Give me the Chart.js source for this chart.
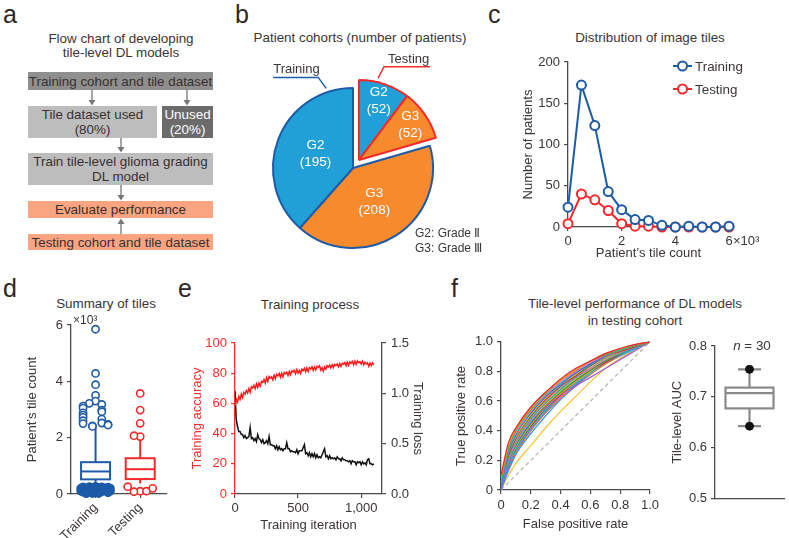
<!DOCTYPE html>
<html>
<head>
<meta charset="utf-8">
<title>Tile-level DL models</title>
<script src="https://cdn.jsdelivr.net/npm/chart.js@4.4.1/dist/chart.umd.min.js"></script>
<style>
  body { margin: 0; }
  #page { position: relative; width: 789px; height: 538px; background: #fff; overflow: hidden;
          font-family: "Liberation Sans", Arial, sans-serif; color: #3b3535; }
  #page canvas { position: absolute; }
  .tx { position: absolute; white-space: nowrap; font-size: 13.4px; line-height: 1; }
  .mid { transform: translateX(-50%); }
  .tag { position: absolute; font-size: 25px; line-height: 1; color: #2e2626; }
  .fbox { position: absolute; display: flex; align-items: center; justify-content: center;
          text-align: center; font-size: 13.4px; line-height: 15px; color: #3a2f2f; }
</style>
</head>
<body>
<div id="page">
  <!-- panel letters -->
  <div class="tag" style="left:3px;top:2px">a</div>
  <div class="tag" style="left:235px;top:2px">b</div>
  <div class="tag" style="left:488px;top:2px">c</div>
  <div class="tag" style="left:3px;top:276px">d</div>
  <div class="tag" style="left:178px;top:276px">e</div>
  <div class="tag" style="left:451px;top:276px">f</div>

  <!-- panel titles -->
  <div class="tx mid" style="left:121px;top:31.7px">Flow chart of developing</div>
  <div class="tx mid" style="left:121px;top:45.7px">tile-level DL models</div>
  <div class="tx mid" style="left:360px;top:30.7px">Patient cohorts (number of patients)</div>
  <div class="tx mid" style="left:650px;top:30.7px">Distribution of image tiles</div>
  <div class="tx mid" style="left:106px;top:296.7px">Summary of tiles</div>
  <div class="tx mid" style="left:310px;top:297.7px">Training process</div>
  <div class="tx mid" style="left:635px;top:296.7px">Tile-level performance of DL models</div>
  <div class="tx mid" style="left:635px;top:313.7px">in testing cohort</div>

  <!-- a: flow chart -->
  <div class="fbox" style="left:28px;top:72px;width:185px;height:18px;background:#8f8f8f">Training cohort and tile dataset</div>
  <div class="fbox" style="left:28px;top:106px;width:129px;height:32px;background:#bdbdbd">Tile dataset used<br>(80%)</div>
  <div class="fbox" style="left:162px;top:106px;width:51px;height:32px;background:#6b6b6b;color:#fff">Unused<br>(20%)</div>
  <div class="fbox" style="left:28px;top:153px;width:185px;height:32px;background:#bdbdbd">Train tile-level glioma grading<br>DL model</div>
  <div class="fbox" style="left:28px;top:201px;width:185px;height:17px;background:#f9a582">Evaluate performance</div>
  <div class="fbox" style="left:28px;top:234px;width:185px;height:16px;background:#f9a582">Testing cohort and tile dataset</div>
  <svg style="position:absolute;left:0;top:0" width="240" height="260">
    <g stroke="#767676" stroke-width="1.3">
      <line x1="92" y1="90" x2="92" y2="101"/>
      <line x1="187" y1="90" x2="187" y2="101"/>
      <line x1="121" y1="138" x2="121" y2="148"/>
      <line x1="121" y1="185" x2="121" y2="196"/>
      <line x1="121" y1="234" x2="121" y2="223"/>
    </g>
    <g fill="#767676">
      <polygon points="88.5,100 95.5,100 92,105.5"/>
      <polygon points="183.5,100 190.5,100 187,105.5"/>
      <polygon points="117.5,147 124.5,147 121,152.5"/>
      <polygon points="117.5,195 124.5,195 121,200.5"/>
      <polygon points="117.5,224 124.5,224 121,218.5"/>
    </g>
  </svg>

  <canvas id="cvB"></canvas>
  <div class="tx" style="left:415px;top:227px;font-size:12px">G2: Grade Ⅱ</div>
  <div class="tx" style="left:415px;top:241.5px;font-size:12px">G3: Grade Ⅲ</div>

  <canvas id="cvC"></canvas>
  <canvas id="cvD"></canvas>
  <canvas id="cvE"></canvas>
  <canvas id="cvF"></canvas>
  <canvas id="cvG"></canvas>
  <div class="tx mid" style="left:752px;top:339px"><i>n</i> = 30</div>
</div>

<script>
// === data ===
// b: patient cohorts (clockwise from 12 o'clock)
const cohortGrades = ["G2", "G3", "G3", "G2"];
const cohortGroups = ["Testing", "Testing", "Training", "Training"];
const cohortCounts = [52, 52, 208, 195];

// c: distribution of image tiles, x in 10^3 tiles
const tileBins = [0, 0.5, 1, 1.5, 2, 2.5, 3, 3.5, 4, 4.5, 5, 5.5, 6];
const trainPatients = [24, 172, 123, 43, 21, 9, 8, 2, 0, 1, 0, 0, 1];
const testPatients = [4, 40, 33, 20, 4, 1, 1, 0, 0, 0, 0, 0, 0];
const tileTicks = [0, 2, 4, 6];

// d: summary of tiles (10^3), stats = [low whisker, q1, median, q3, high whisker]
const summaryGroups = ["Training", "Testing"];
const trainTileStats = [0.3, 0.52, 0.8, 1.13, 2.35];
const testTileStats = [0.37, 0.53, 0.88, 1.27, 2.0];
const trainHighOutliers = [4.28, 5.85, 3.88, 3.5, 3.3, 3.22, 3.18, 3.12, 3.05, 2.98, 2.92, 2.88,
                           2.8, 2.72, 2.66, 2.6, 2.52, 2.5, 2.47, 2.45, 2.42, 2.4];
const trainLowOutliers = [0.27, 0.26, 0.25, 0.25, 0.24, 0.23, 0.23, 0.22, 0.22, 0.21, 0.21, 0.2,
                          0.2, 0.19, 0.19, 0.18, 0.18, 0.17, 0.17, 0.16, 0.16, 0.15, 0.15, 0.14,
                          0.14, 0.13, 0.13, 0.12, 0.12, 0.11, 0.11, 0.1, 0.1, 0.09, 0.09, 0.08,
                          0.08, 0.07, 0.07, 0.06, 0.06, 0.05, 0.05, 0.04, 0.04, 0.03, 0.03, 0.02,
                          0.02, 0.01];
const testHighOutliers = [3.57, 2.98, 2.51, 2.04, 2.07];
const testLowOutliers = [0.1, 0.08, 0.1, 0.26, 0.2];
const summaryTicks = [0, 2, 4, 6];

// e: training process
const iterations = [0, 10, 20, 30, 40, 50, 60, 70, 80, 90, 100, 110, 120, 130, 140, 150, 160, 170,
  180, 190, 200, 210, 220, 230, 240, 250, 260, 270, 280, 290, 300, 310, 320, 330, 340, 350, 360,
  370, 380, 390, 400, 410, 420, 430, 440, 450, 460, 470, 480, 490, 500, 510, 520, 530, 540, 550,
  560, 570, 580, 590, 600, 610, 620, 630, 640, 650, 660, 670, 680, 690, 700, 710, 720, 730, 740,
  750, 760, 770, 780, 790, 800, 810, 820, 830, 840, 850, 860, 870, 880, 890, 900, 910, 920, 930,
  940, 950, 960, 970, 980, 990, 1000, 1010, 1020, 1030, 1040, 1050, 1060, 1070, 1080, 1090, 1100];
const trainAccuracy = [
  58.0, 62.8, 60.9, 64.6, 62.7, 66.3, 63.9, 67.2, 66.1, 68.5,
  66.9, 69.8, 67.4, 71.0, 70.2, 71.9, 69.8, 73.0, 70.6, 73.4,
  71.5, 74.6, 73.8, 75.8, 73.4, 77.0, 74.6, 77.9, 76.8, 77.6,
  75.6, 78.7, 76.4, 79.1, 78.2, 79.8, 77.3, 80.0, 77.6, 80.4,
  79.5, 80.6, 78.5, 81.1, 79.0, 81.5, 80.7, 82.0, 79.7, 82.3,
  80.1, 81.9, 79.8, 82.6, 81.7, 83.2, 81.0, 83.5, 81.2, 83.7,
  82.8, 84.2, 81.9, 84.0, 82.3, 84.6, 83.9, 84.9, 82.0, 83.6,
  81.4, 84.1, 82.6, 85.0, 84.2, 85.4, 83.4, 85.6, 83.7, 85.9,
  85.1, 86.1, 84.2, 86.3, 84.5, 86.6, 85.9, 86.9, 85.0, 87.3,
  85.2, 87.5, 86.6, 87.8, 85.6, 88.0, 85.9, 88.2, 87.0, 87.6,
  86.0, 87.9, 85.5, 87.2, 86.1, 86.9, 84.6, 86.7, 85.0, 86.8,
  85.6];
const trainLoss = [
  1.02, 0.74, 0.67, 0.62, 0.62, 0.59, 0.59, 0.56, 0.58, 0.55,
  0.56, 0.57, 0.66, 0.55, 0.56, 0.53, 0.55, 0.52, 0.59, 0.55,
  0.54, 0.51, 0.54, 0.50, 0.51, 0.53, 0.50, 0.57, 0.49, 0.49,
  0.48, 0.48, 0.45, 0.48, 0.44, 0.47, 0.44, 0.45, 0.43, 0.45,
  0.45, 0.51, 0.45, 0.45, 0.42, 0.43, 0.42, 0.42, 0.41, 0.44,
  0.40, 0.43, 0.43, 0.43, 0.46, 0.49, 0.40, 0.41, 0.38, 0.41,
  0.37, 0.40, 0.37, 0.40, 0.36, 0.39, 0.36, 0.37, 0.36, 0.39,
  0.42, 0.45, 0.37, 0.38, 0.35, 0.38, 0.35, 0.36, 0.35, 0.36,
  0.34, 0.37, 0.35, 0.35, 0.33, 0.36, 0.34, 0.34, 0.33, 0.33,
  0.32, 0.33, 0.30, 0.33, 0.32, 0.32, 0.29, 0.32, 0.31, 0.32,
  0.29, 0.32, 0.30, 0.31, 0.29, 0.34, 0.35, 0.30, 0.30, 0.29,
  0.30];
const iterTicks = [0, 500, 1000];

// f: ROC curves of 30 models, sampled at these false positive rates
const fprGrid = [0, 0.05, 0.1, 0.2, 0.3, 0.4, 0.5, 0.6, 0.7, 0.85, 1];
const rocTpr = [
  [0.10, 0.32, 0.42, 0.56, 0.66, 0.75, 0.82, 0.87, 0.92, 0.97, 1],
  [0.08, 0.30, 0.41, 0.55, 0.66, 0.74, 0.81, 0.87, 0.92, 0.97, 1],
  [0.06, 0.28, 0.40, 0.54, 0.65, 0.74, 0.81, 0.87, 0.91, 0.96, 1],
  [0.09, 0.29, 0.39, 0.53, 0.64, 0.73, 0.80, 0.86, 0.91, 0.96, 1],
  [0.05, 0.27, 0.38, 0.53, 0.64, 0.72, 0.80, 0.86, 0.91, 0.96, 1],
  [0.07, 0.26, 0.38, 0.52, 0.63, 0.72, 0.79, 0.85, 0.91, 0.96, 1],
  [0.04, 0.25, 0.37, 0.52, 0.63, 0.71, 0.79, 0.85, 0.90, 0.96, 1],
  [0.06, 0.25, 0.36, 0.51, 0.62, 0.71, 0.78, 0.85, 0.90, 0.96, 1],
  [0.03, 0.24, 0.36, 0.50, 0.62, 0.70, 0.78, 0.84, 0.90, 0.96, 1],
  [0.05, 0.23, 0.35, 0.50, 0.61, 0.70, 0.77, 0.84, 0.90, 0.95, 1],
  [0.04, 0.22, 0.34, 0.49, 0.61, 0.70, 0.77, 0.84, 0.89, 0.95, 1],
  [0.06, 0.23, 0.34, 0.49, 0.60, 0.69, 0.77, 0.83, 0.89, 0.95, 1],
  [0.02, 0.21, 0.33, 0.48, 0.60, 0.69, 0.76, 0.83, 0.89, 0.95, 1],
  [0.05, 0.22, 0.33, 0.48, 0.59, 0.68, 0.76, 0.83, 0.89, 0.95, 1],
  [0.03, 0.20, 0.32, 0.47, 0.59, 0.68, 0.76, 0.82, 0.88, 0.95, 1],
  [0.04, 0.21, 0.32, 0.47, 0.58, 0.67, 0.75, 0.82, 0.88, 0.95, 1],
  [0.02, 0.19, 0.31, 0.46, 0.58, 0.67, 0.75, 0.82, 0.88, 0.94, 1],
  [0.05, 0.20, 0.31, 0.46, 0.57, 0.67, 0.75, 0.82, 0.88, 0.94, 1],
  [0.03, 0.19, 0.30, 0.45, 0.57, 0.66, 0.74, 0.81, 0.87, 0.94, 1],
  [0.01, 0.18, 0.30, 0.45, 0.56, 0.66, 0.74, 0.81, 0.87, 0.94, 1],
  [0.04, 0.18, 0.29, 0.44, 0.56, 0.65, 0.73, 0.80, 0.87, 0.94, 1],
  [0.02, 0.17, 0.28, 0.44, 0.55, 0.65, 0.73, 0.80, 0.87, 0.94, 1],
  [0.03, 0.17, 0.28, 0.43, 0.55, 0.64, 0.73, 0.80, 0.86, 0.94, 1],
  [0.01, 0.16, 0.27, 0.42, 0.54, 0.64, 0.72, 0.79, 0.86, 0.93, 1],
  [0.02, 0.16, 0.27, 0.42, 0.54, 0.63, 0.72, 0.79, 0.86, 0.93, 1],
  [0.00, 0.15, 0.26, 0.41, 0.53, 0.63, 0.71, 0.79, 0.86, 0.93, 1],
  [0.02, 0.15, 0.25, 0.40, 0.52, 0.62, 0.71, 0.78, 0.85, 0.93, 1],
  [0.01, 0.14, 0.25, 0.40, 0.52, 0.62, 0.70, 0.76, 0.82, 0.91, 1],
  [0.00, 0.13, 0.24, 0.38, 0.50, 0.61, 0.70, 0.78, 0.85, 0.93, 1],
  [0.00, 0.10, 0.18, 0.30, 0.42, 0.53, 0.63, 0.73, 0.82, 0.92, 1]
];
const rocTicks = [0, 0.2, 0.4, 0.6, 0.8, 1];
// AUC box: [min, q1, median, q3, max]
const aucStats = [0.642, 0.677, 0.707, 0.718, 0.754];

// === colors ===
const TXT = "#3b3535";
const AXIS = "#4a4a4a";
const BLUE = "#1d5ba8";
const RED = "#f42a2a";
const PIE_BLUE = "#21a0d8";
const PIE_ORANGE = "#f88a2e";
const rocColors = ["#e8262b", "#ff8c1a", "#3cb44b", "#ff6fb5", "#18c3e6", "#2f6fd6", "#9b4fc9",
  "#f5b81c", "#1f9d8a", "#d62728", "#7ac142", "#ff9e7a", "#8e6cd8", "#00b3b3", "#e377c2",
  "#c7c91f", "#12a4f0", "#ff5a1f", "#2ca02c", "#b04fd0", "#ffa41c", "#20b2aa", "#dc143c",
  "#00cfe0", "#ff69b4", "#5a6fe0", "#ff7f0e", "#a25cd6", "#1e90ff", "#f6c335"];

Chart.defaults.font.family = '"Liberation Sans", Arial, sans-serif';
Chart.defaults.font.size = 13;
Chart.defaults.color = TXT;

// === helpers ===
// put a canvas at a page box and work out padding/axis sizes so the plot area lands at `area`
function frame(id, box, area, rightAxis) {
    const cv = document.getElementById(id);
    cv.width = box.w;
    cv.height = box.h;
    cv.style.left = box.x + "px";
    cv.style.top = box.y + "px";
    return {
        padding: { left: 0, top: area.t - box.y, right: rightAxis ? 0 : box.x + box.w - area.r, bottom: 0 },
        yLeft: area.l - box.x,
        yRight: box.x + box.w - area.r,
        xHeight: box.y + box.h - area.b,
    };
}

function axisStyle(color) {
    return {
        grid: { drawOnChartArea: false, drawTicks: true, tickLength: 4, color: color || AXIS, lineWidth: 1.2 },
        border: { display: true, color: color || AXIS, width: 1.3 },
    };
}

function fixedTicks(list) {
    return (scale) => { scale.ticks = list.map(v => ({ value: v })); };
}

const baseOpts = { responsive: false, animation: false, devicePixelRatio: 1, events: [] };

// small beeswarm so outliers with close values sit side by side
const swarmSteps = [0, -0.14, 0.14, -0.28, 0.28, -0.07, 0.07, -0.21, 0.21, -0.33, 0.33];
function swarm(values, center) {
    return values.map((v, i) => {
        let k = 0;
        for (let j = 0; j < i; j++) if (Math.abs(values[j] - v) < 0.2) k++;
        return { x: center + swarmSteps[k % swarmSteps.length], y: v };
    });
}

// boxes + whiskers drawn from stats through the chart scales
function boxPlugin(boxes, style) {
    return {
        id: "boxes",
        beforeDatasetsDraw(chart) {
            const { ctx, scales: { x, y } } = chart;
            ctx.save();
            ctx.lineWidth = style.lineWidth;
            boxes.forEach(b => {
                const cx = x.getPixelForValue(b.x);
                const [lo, q1, med, q3, hi] = b.stats.map(v => y.getPixelForValue(v));
                const hw = style.width / 2;
                ctx.strokeStyle = b.color;
                ctx.beginPath();
                ctx.moveTo(cx, q3); ctx.lineTo(cx, hi);
                ctx.moveTo(cx, q1); ctx.lineTo(cx, lo);
                if (style.cap) {
                    ctx.moveTo(cx - style.cap / 2, hi); ctx.lineTo(cx + style.cap / 2, hi);
                    ctx.moveTo(cx - style.cap / 2, lo); ctx.lineTo(cx + style.cap / 2, lo);
                }
                ctx.stroke();
                ctx.fillStyle = "#fff";
                ctx.fillRect(cx - hw, q3, hw * 2, q1 - q3);
                ctx.strokeRect(cx - hw, q3, hw * 2, q1 - q3);
                ctx.beginPath();
                ctx.moveTo(cx - hw, med); ctx.lineTo(cx + hw, med);
                ctx.stroke();
            });
            ctx.restore();
        }
    };
}

// === b: pie ===
const cohortPlugin = {
    id: "cohortPie",
    afterDatasetsUpdate(chart) {
        // pull the testing wedge out as one piece
        const arcs = chart.getDatasetMeta(0).data;
        const test = arcs.filter((a, i) => cohortGroups[i] === "Testing");
        const mid = (test[0].startAngle + test[test.length - 1].endAngle) / 2;
        test.forEach(a => { a.x += Math.cos(mid) * 10; a.y += Math.sin(mid) * 10; });
    },
    afterDatasetsDraw(chart) {
        const { ctx } = chart;
        const arcs = chart.getDatasetMeta(0).data;
        ctx.save();
        ctx.fillStyle = "#fff";
        ctx.font = '13.5px "Liberation Sans", Arial';
        ctx.textAlign = "center";
        ctx.textBaseline = "middle";
        arcs.forEach((a, i) => {
            const m = (a.startAngle + a.endAngle) / 2;
            const r = a.outerRadius * (cohortGroups[i] === "Testing" ? 0.78 : 0.5);
            const cx = a.x + Math.cos(m) * r;
            const cy = a.y + Math.sin(m) * r;
            ctx.fillText(cohortGrades[i], cx, cy - 8.5);
            ctx.fillText("(" + cohortCounts[i] + ")", cx, cy + 8.5);
        });

        // callouts
        ctx.lineWidth = 1.5;
        ctx.font = '13px "Liberation Sans", Arial';
        ctx.textBaseline = "alphabetic";
        const tr = arcs[3];
        let ang = -Math.PI / 2 - 18.6 * Math.PI / 180;
        let px = tr.x + Math.cos(ang) * 84, py = tr.y + Math.sin(ang) * 84;
        ctx.strokeStyle = BLUE;
        ctx.beginPath();
        ctx.moveTo(px, py); ctx.lineTo(px - 8, py - 11); ctx.lineTo(px - 53, py - 11);
        ctx.stroke();
        ctx.fillStyle = TXT;
        ctx.textAlign = "left";
        ctx.fillText("Training", px - 53, py - 15);

        const te = arcs[0];
        ang = -Math.PI / 2 + 13.1 * Math.PI / 180;
        px = te.x + Math.cos(ang) * 84; py = te.y + Math.sin(ang) * 84;
        ctx.strokeStyle = RED;
        ctx.beginPath();
        ctx.moveTo(px, py); ctx.lineTo(px + 6, py - 11.5); ctx.lineTo(px + 52, py - 11.5);
        ctx.stroke();
        ctx.fillText("Testing", px + 10, py - 15);
        ctx.restore();
    }
};

const fb = frame("cvB", { x: 250, y: 50, w: 240, h: 230 }, { t: 56, r: 456 });
new Chart("cvB", {
    type: "pie",
    data: {
        labels: cohortGrades.map((g, i) => cohortGroups[i] + " " + g),
        datasets: [{
            data: cohortCounts,
            radius: 80,
            backgroundColor: cohortGrades.map(g => g === "G2" ? PIE_BLUE : PIE_ORANGE),
            borderColor: cohortGroups.map(g => g === "Testing" ? RED : BLUE),
            borderWidth: 2,
        }]
    },
    options: {
        ...baseOpts,
        layout: { padding: { left: 0, right: 34, top: 6, bottom: 0 } },
        plugins: { legend: { display: false }, tooltip: { enabled: false } }
    },
    plugins: [cohortPlugin]
});

// === c: distribution ===
const tileLegend = {
    id: "tileLegend",
    afterDraw(chart) {
        const { ctx, chartArea: a } = chart;
        ctx.save();
        chart.data.datasets.forEach((ds, i) => {
            const y = a.top + 4 + i * 23;
            const x0 = a.right - 56;
            ctx.strokeStyle = ds.borderColor;
            ctx.lineWidth = 2;
            ctx.beginPath(); ctx.moveTo(x0, y); ctx.lineTo(x0 + 19, y); ctx.stroke();
            ctx.fillStyle = "#fff";
            ctx.beginPath(); ctx.arc(x0 + 9.5, y, 4.5, 0, Math.PI * 2); ctx.fill(); ctx.stroke();
            ctx.fillStyle = TXT;
            ctx.font = '13.4px "Liberation Sans", Arial';
            ctx.textAlign = "left";
            ctx.textBaseline = "middle";
            ctx.fillText(ds.label, x0 + 22, y + 1);
        });
        const xs = chart.scales.x;
        ctx.font = '13px "Liberation Sans", Arial';
        ctx.textBaseline = "top";
        ctx.fillText("×10³", xs.getPixelForValue(tileTicks[tileTicks.length - 1]) + 4, a.bottom + 8);
        ctx.restore();
    }
};

const fc = frame("cvC", { x: 517, y: 45, w: 272, h: 220 }, { l: 568, r: 729, t: 62, b: 227 });
function tileSet(label, values, color) {
    return {
        label,
        data: tileBins.map((x, i) => ({ x, y: values[i] })),
        borderColor: color,
        backgroundColor: "#fff",
        borderWidth: 2,
        pointRadius: 4.5,
        pointBorderWidth: 2,
        pointBackgroundColor: "#fff",
        pointBorderColor: color,
        clip: false,
    };
}
new Chart("cvC", {
    type: "line",
    data: { datasets: [tileSet("Training", trainPatients, BLUE), tileSet("Testing", testPatients, RED)] },
    options: {
        ...baseOpts,
        layout: { padding: fc.padding },
        plugins: { legend: { display: false }, tooltip: { enabled: false } },
        scales: {
            x: {
                type: "linear", min: 0, max: 6, ...axisStyle(),
                afterBuildTicks: fixedTicks(tileTicks),
                ticks: { padding: 3, color: TXT },
                title: { display: true, text: "Patient’s tile count", color: TXT, padding: { top: 4, bottom: 4 } },
                afterFit: s => { s.height = fc.xHeight; }
            },
            y: {
                min: 0, max: 200, ...axisStyle(),
                ticks: { stepSize: 50, padding: 4, color: TXT },
                title: { display: true, text: "Number of patients", color: TXT, padding: { top: 4, bottom: 4 } },
                afterFit: s => { s.width = fc.yLeft; }
            }
        }
    },
    plugins: [tileLegend]
});

// === d: summary of tiles ===
const summaryUnit = {
    id: "summaryUnit",
    afterDraw(chart) {
        const { ctx, chartArea: a } = chart;
        ctx.save();
        ctx.fillStyle = TXT;
        ctx.font = '12px "Liberation Sans", Arial';
        ctx.textBaseline = "alphabetic";
        ctx.fillText("×10³", a.left + 2, a.top - 1);
        ctx.restore();
    }
};

const fd = frame("cvD", { x: 21, y: 312, w: 160, h: 226 }, { l: 71, r: 167, t: 325, b: 494 });
function dots(data, color, filled) {
    return {
        data,
        showLine: false,
        pointRadius: 3.6,
        pointBorderWidth: 1.6,
        pointBorderColor: color,
        pointBackgroundColor: filled ? color : "#fff",
        clip: false,
    };
}
new Chart("cvD", {
    type: "scatter",
    data: {
        datasets: [
            dots(swarm(trainHighOutliers, 1), BLUE, false),
            dots(swarm(trainLowOutliers, 1), BLUE, true),
            dots(swarm(testHighOutliers, 2), RED, false),
            dots(swarm(testLowOutliers, 2), RED, false),
        ]
    },
    options: {
        ...baseOpts,
        layout: { padding: fd.padding },
        plugins: { legend: { display: false }, tooltip: { enabled: false } },
        scales: {
            x: {
                type: "linear", min: 0.45, max: 2.6, ...axisStyle(),
                afterBuildTicks: fixedTicks([1, 2]),
                ticks: { padding: 2, color: TXT, minRotation: 45, maxRotation: 45, autoSkip: false,
                         callback: v => summaryGroups[v - 1] },
                afterFit: s => { s.height = fd.xHeight; }
            },
            y: {
                min: 0, max: 6, ...axisStyle(),
                afterBuildTicks: fixedTicks(summaryTicks),
                ticks: { padding: 4, color: TXT },
                title: { display: true, text: "Patient’s tile count", color: TXT, padding: { top: 4, bottom: 4 } },
                afterFit: s => { s.width = fd.yLeft; }
            }
        }
    },
    plugins: [boxPlugin([
        { x: 1, stats: trainTileStats, color: BLUE },
        { x: 2, stats: testTileStats, color: RED },
    ], { width: 29, lineWidth: 2, cap: 0 }), summaryUnit]
});

// === e: training process ===
const fe = frame("cvE", { x: 186, y: 330, w: 243, h: 207 }, { l: 235, r: 382, t: 343, b: 494 }, true);
new Chart("cvE", {
    type: "line",
    data: {
        datasets: [
            { data: iterations.map((x, i) => ({ x, y: trainAccuracy[i] })), yAxisID: "yA",
              borderColor: "#ff1c1c", borderWidth: 1.5, pointRadius: 0, tension: 0 },
            { data: iterations.map((x, i) => ({ x, y: trainLoss[i] })), yAxisID: "yL",
              borderColor: "#111", borderWidth: 1.5, pointRadius: 0, tension: 0 },
        ]
    },
    options: {
        ...baseOpts,
        layout: { padding: fe.padding },
        plugins: { legend: { display: false }, tooltip: { enabled: false } },
        scales: {
            x: {
                type: "linear", min: 0, max: 1165, ...axisStyle(),
                afterBuildTicks: fixedTicks(iterTicks),
                ticks: { padding: 3, color: TXT },
                title: { display: true, text: "Training iteration", color: TXT, padding: { top: 4, bottom: 4 } },
                afterFit: s => { s.height = fe.xHeight; }
            },
            yA: {
                position: "left", min: 0, max: 100, ...axisStyle("#ff2a2a"),
                ticks: { stepSize: 20, padding: 4, color: "#ff2a2a" },
                title: { display: true, text: "Training accuracy", color: "#ff2a2a", padding: { top: 4, bottom: 4 } },
                afterFit: s => { s.width = fe.yLeft; }
            },
            yL: {
                position: "right", min: 0, max: 1.5, ...axisStyle(),
                ticks: { stepSize: 0.5, padding: 5, color: TXT, callback: v => v.toFixed(1) },
                title: { display: true, text: "Training loss", color: TXT, padding: { top: 4, bottom: 4 } },
                afterFit: s => { s.width = fe.yRight; }
            }
        }
    }
});

// === f: ROC curves ===
const ff = frame("cvF", { x: 450, y: 330, w: 215, h: 206 }, { l: 501, r: 650, t: 341, b: 490 });
const rocSets = rocTpr.map((row, k) => ({
    data: row.map((v, i) => ({ x: fprGrid[i], y: v })),
    borderColor: rocColors[k],
    borderWidth: 1.2,
    pointRadius: 0,
    cubicInterpolationMode: "monotone",
}));
rocSets.push({
    data: [{ x: 0, y: 0 }, { x: 1, y: 1 }],
    borderColor: "#b3b3b3", borderWidth: 1.2, borderDash: [4, 3], pointRadius: 0,
});
const rateLabel = v => v === 0 ? "0" : v.toFixed(1);
new Chart("cvF", {
    type: "line",
    data: { datasets: rocSets },
    options: {
        ...baseOpts,
        layout: { padding: ff.padding },
        plugins: { legend: { display: false }, tooltip: { enabled: false } },
        scales: {
            x: {
                type: "linear", min: 0, max: 1, ...axisStyle(),
                afterBuildTicks: fixedTicks(rocTicks),
                ticks: { padding: 4, color: TXT, callback: rateLabel },
                title: { display: true, text: "False positive rate", color: TXT, padding: { top: 4, bottom: 4 } },
                afterFit: s => { s.height = ff.xHeight; }
            },
            y: {
                min: 0, max: 1, ...axisStyle(),
                afterBuildTicks: fixedTicks(rocTicks),
                ticks: { padding: 4, color: TXT, callback: rateLabel },
                title: { display: true, text: "True positive rate", color: TXT, padding: { top: 4, bottom: 4 } },
                afterFit: s => { s.width = ff.yLeft; }
            }
        }
    }
});

// === f: AUC box ===
const fg = frame("cvG", { x: 666, y: 330, w: 123, h: 180 }, { l: 715, r: 788, t: 346, b: 504 });
new Chart("cvG", {
    type: "scatter",
    data: {
        datasets: [{
            data: [{ x: 1, y: aucStats[4] }, { x: 1, y: aucStats[0] }],
            pointRadius: 4, pointBackgroundColor: "#111", pointBorderColor: "#111", clip: false,
        }]
    },
    options: {
        ...baseOpts,
        layout: { padding: fg.padding },
        plugins: { legend: { display: false }, tooltip: { enabled: false } },
        scales: {
            x: {
                type: "linear", min: 0, max: 2,
                grid: { display: false },
                border: { display: true, color: AXIS, width: 1.3 },
                ticks: { display: false },
                afterFit: s => { s.height = fg.xHeight; }
            },
            y: {
                min: 0.5, max: 0.8, ...axisStyle(),
                ticks: { stepSize: 0.1, padding: 4, color: TXT, callback: v => v.toFixed(1) },
                title: { display: true, text: "Tile-level AUC", color: TXT, padding: { top: 4, bottom: 4 } },
                afterFit: s => { s.width = fg.yLeft; }
            }
        }
    },
    plugins: [boxPlugin([{ x: 1, stats: aucStats, color: "#8a8a8a" }], { width: 48, lineWidth: 2.2, cap: 23 })]
});
</script>
</body>
</html>
